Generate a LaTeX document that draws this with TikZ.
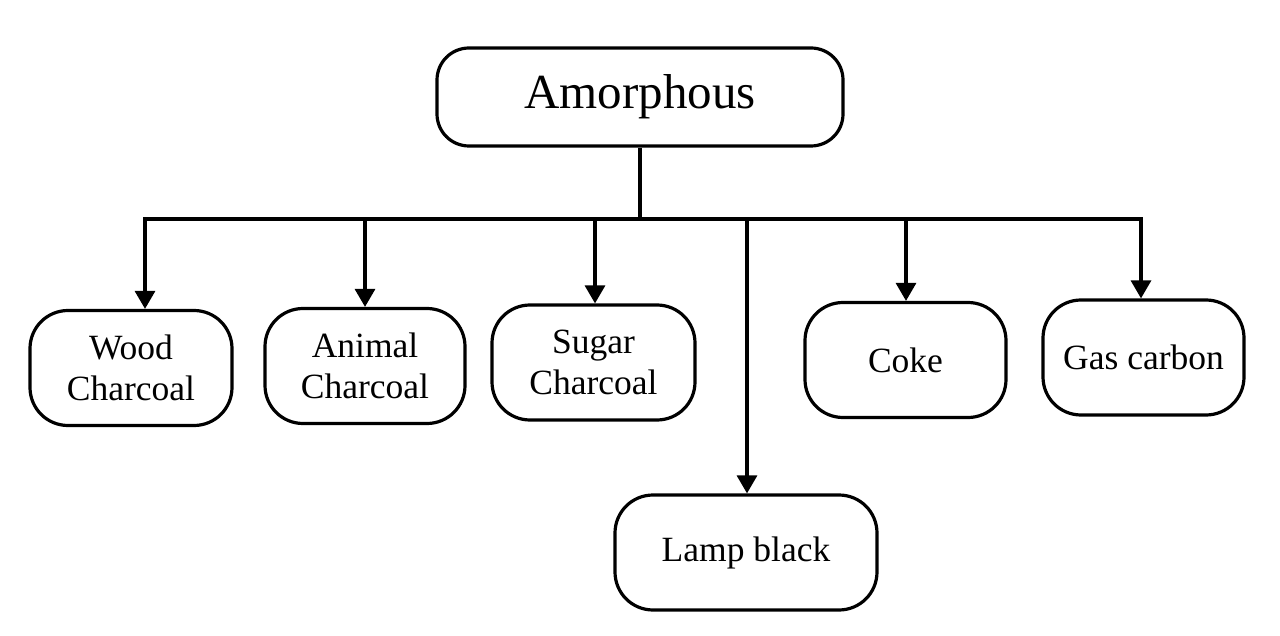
\documentclass[tikz,border=0pt]{standalone}
\usepackage{fontspec}
\setmainfont{Liberation Serif}
\usetikzlibrary{arrows.meta}
\begin{document}
\begin{tikzpicture}[x=1pt,y=-1pt,
  box/.style={draw=black,line width=3.2pt,rounded corners=38pt,align=center,inner sep=0pt,
    minimum width=201pt,minimum height=115pt,font=\fontsize{35.5}{41}\selectfont},
  topbox/.style={box,rounded corners=32pt,minimum width=406pt,minimum height=98pt,font=\fontsize{49}{58}\selectfont},
  conn/.style={line width=3.2pt},
  arr/.style={line width=3.2pt,-{Triangle[width=20pt,length=18pt]}}]
\useasboundingbox (0,0) rectangle (1280,636);
\fill[white] (0,0) rectangle (1280,636);
\node[topbox] (amor) at (640,97) {Amorphous};
\node[box,minimum width=202pt] (wood) at (131,368) {Wood\\Charcoal};
\node[box,minimum width=200pt] (animal) at (365,366) {Animal\\Charcoal};
\node[box,minimum width=203pt] (sugar) at (593.5,362.5) {Sugar\\Charcoal};
\node[box] (coke) at (905.5,360) {Coke};
\node[box] (gas) at (1143.5,357.5) {Gas carbon};
\node[box,minimum width=262pt] (lamp) at (746,552.5) {Lamp black};
\coordinate (b1) at (145,219);
\coordinate (b2) at (365,219);
\coordinate (b3) at (595,219);
\coordinate (b4) at (747,219);
\coordinate (b5) at (906,219);
\coordinate (b6) at (1141,219);
\draw[conn] (amor.south) -- (amor.south |- b1);
\draw[conn,line cap=rect] (b1) -- (b6);
\draw[arr] (b1) -- (b1 |- wood.north);
\draw[arr] (b2) -- (b2 |- animal.north);
\draw[arr] (b3) -- (b3 |- sugar.north);
\draw[arr] (b4) -- (b4 |- lamp.north);
\draw[arr] (b5) -- (b5 |- coke.north);
\draw[arr] (b6) -- (b6 |- gas.north);
\end{tikzpicture}
\end{document}
